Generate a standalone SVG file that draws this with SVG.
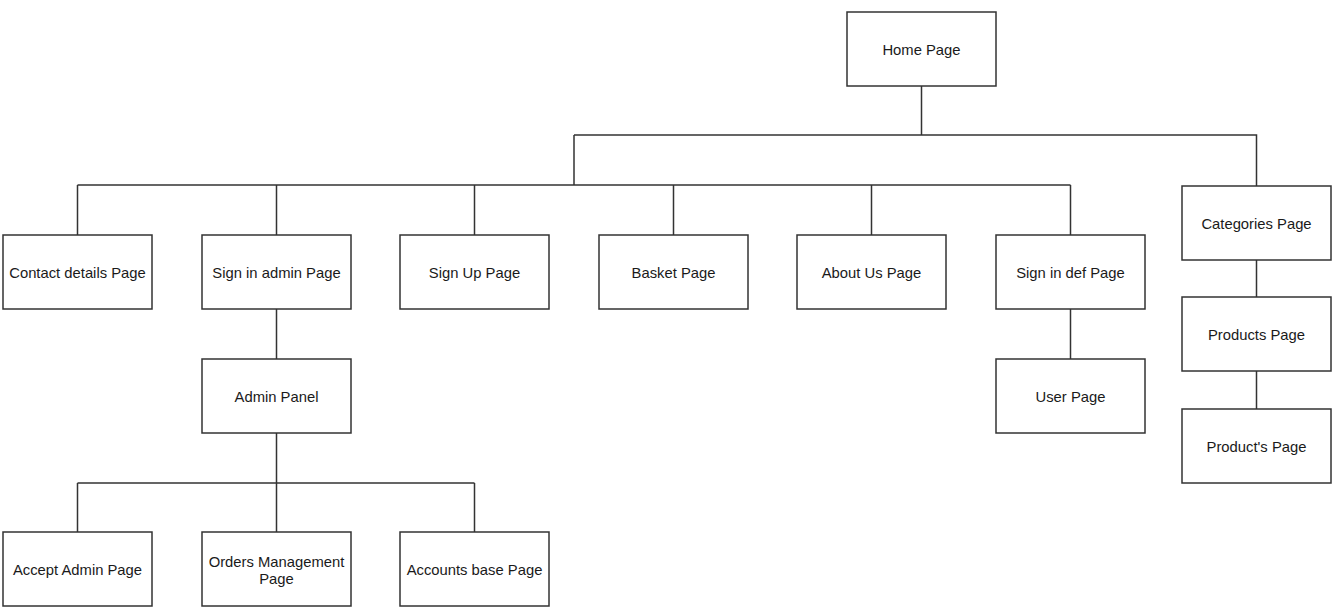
<svg xmlns="http://www.w3.org/2000/svg" width="1335" height="612" viewBox="0 0 1335 612">
  <style>
    .box { fill: #ffffff; stroke: #333333; stroke-width: 1.5; }
    .lbl { font-family: "Liberation Sans", Arial, sans-serif; font-size: 14.8px; fill: #1a1a1a; text-anchor: middle; dominant-baseline: central; }
    .edge { fill: none; stroke: #333333; stroke-width: 1.5; }
  </style>
  <rect width="1335" height="612" fill="#ffffff"/>

  <g id="connectors">
    <!-- Home Page to first-level bus -->
    <path class="edge" d="M921.5 86 V135 M574 135 H1256.5 V186 M574 135 V185"/>
    <!-- main row bus -->
    <path class="edge" d="M77.5 185 H1070.5 M77.5 185 V235 M276.5 185 V235 M474.5 185 V235 M673.5 185 V235 M871.5 185 V235 M1070.5 185 V235"/>
    <!-- admin branch -->
    <path class="edge" d="M276.5 309 V359 M276.5 433 V532 M77.5 483 H474.5 M77.5 483 V532 M474.5 483 V532"/>
    <!-- user branch -->
    <path class="edge" d="M1070.5 309 V359"/>
    <!-- categories chain -->
    <path class="edge" d="M1256.5 260 V297 M1256.5 371 V409"/>
  </g>

  <g id="home-page"><rect class="box" x="847" y="12" width="149" height="74"/><text class="lbl" x="921.5" y="50">Home Page</text></g>

  <g id="contact-details-page"><rect class="box" x="3" y="235" width="149" height="74"/><text class="lbl" x="77.5" y="273">Contact details Page</text></g>
  <g id="sign-in-admin-page"><rect class="box" x="202" y="235" width="149" height="74"/><text class="lbl" x="276.5" y="273">Sign in admin Page</text></g>
  <g id="sign-up-page"><rect class="box" x="400" y="235" width="149" height="74"/><text class="lbl" x="474.5" y="273">Sign Up Page</text></g>
  <g id="basket-page"><rect class="box" x="599" y="235" width="149" height="74"/><text class="lbl" x="673.5" y="273">Basket Page</text></g>
  <g id="about-us-page"><rect class="box" x="797" y="235" width="149" height="74"/><text class="lbl" x="871.5" y="273">About Us Page</text></g>
  <g id="sign-in-def-page"><rect class="box" x="996" y="235" width="149" height="74"/><text class="lbl" x="1070.5" y="273">Sign in def Page</text></g>
  <g id="categories-page"><rect class="box" x="1182" y="186" width="149" height="74"/><text class="lbl" x="1256.5" y="224">Categories Page</text></g>

  <g id="admin-panel"><rect class="box" x="202" y="359" width="149" height="74"/><text class="lbl" x="276.5" y="397">Admin Panel</text></g>
  <g id="user-page"><rect class="box" x="996" y="359" width="149" height="74"/><text class="lbl" x="1070.5" y="397">User Page</text></g>
  <g id="products-page"><rect class="box" x="1182" y="297" width="149" height="74"/><text class="lbl" x="1256.5" y="335">Products Page</text></g>
  <g id="product-detail-page"><rect class="box" x="1182" y="409" width="149" height="74"/><text class="lbl" x="1256.5" y="447">Product's Page</text></g>

  <g id="accept-admin-page"><rect class="box" x="3" y="532" width="149" height="74"/><text class="lbl" x="77.5" y="570">Accept Admin Page</text></g>
  <g id="orders-management-page"><rect class="box" x="202" y="532" width="149" height="74"/><text class="lbl" x="276.5" y="562">Orders Management</text><text class="lbl" x="276.5" y="579">Page</text></g>
  <g id="accounts-base-page"><rect class="box" x="400" y="532" width="149" height="74"/><text class="lbl" x="474.5" y="570">Accounts base Page</text></g>
</svg>
